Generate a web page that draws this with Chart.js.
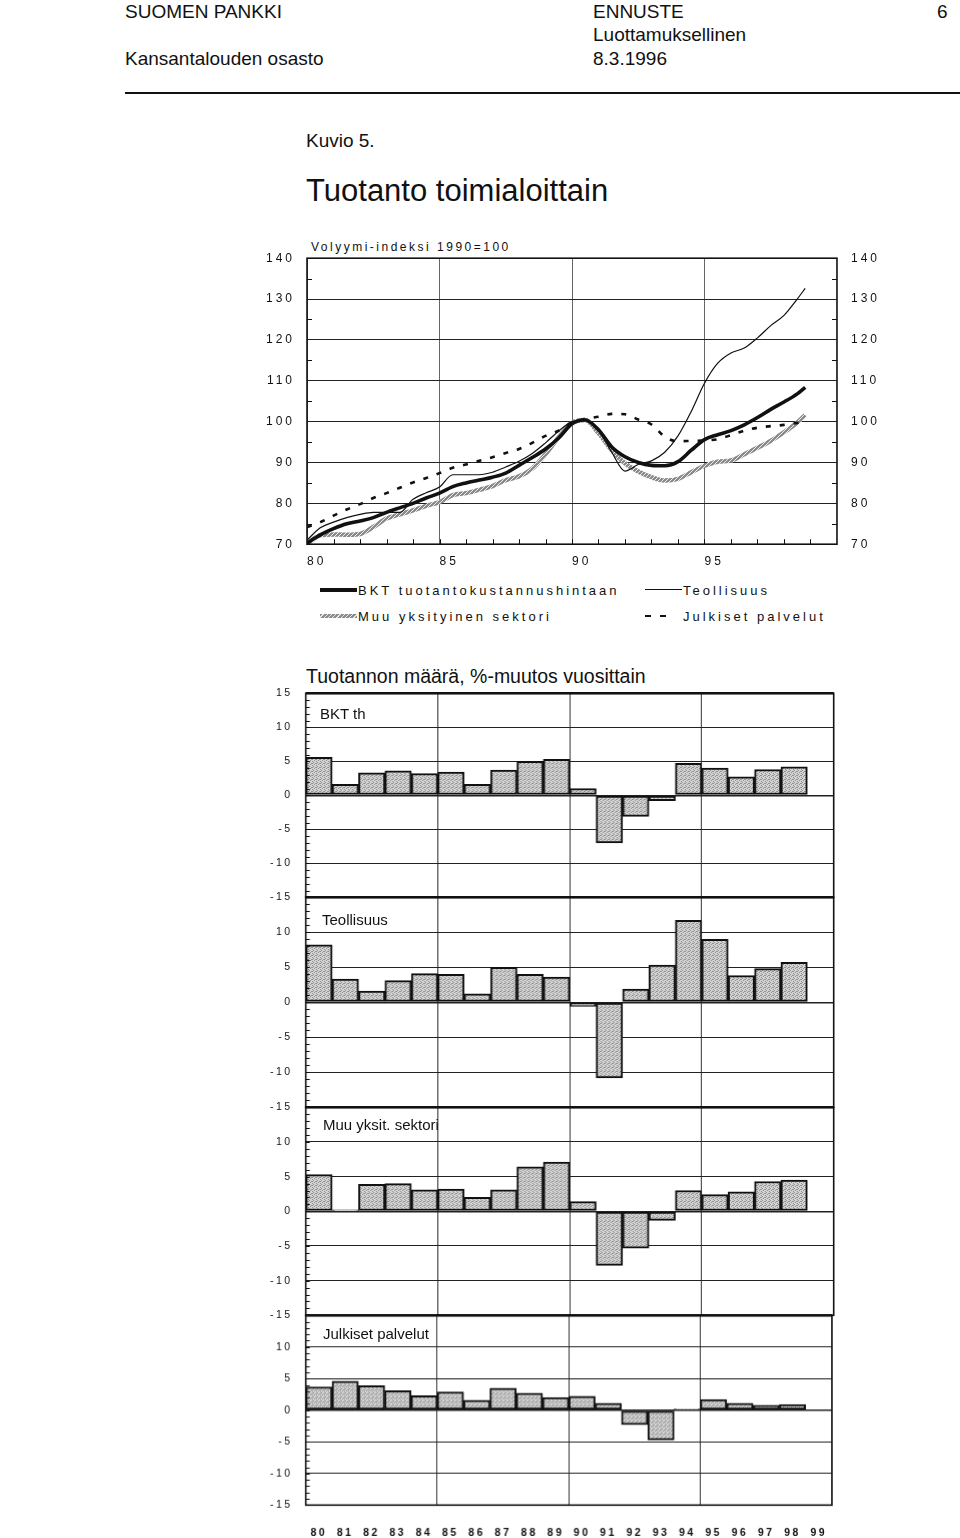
<!DOCTYPE html>
<html>
<head>
<meta charset="utf-8">
<script src="https://cdn.jsdelivr.net/npm/chart.js@4.4.0/dist/chart.umd.min.js"></script>
<style>
  body { margin: 0; width: 960px; height: 1538px; position: relative; overflow: hidden; background: #fff;
         font-family: "Liberation Sans", Arial, sans-serif; color: #111; }
  .t { position: absolute; white-space: nowrap; line-height: 1; }
  .sp { letter-spacing: 3px; }
  canvas { position: absolute; }
  .key { position: absolute; }
</style>
</head>
<body>
<div class="t" style="left:125px;top:2px;font-size:19px">SUOMEN PANKKI</div>
<div class="t" style="left:593px;top:2px;font-size:19px">ENNUSTE</div>
<div class="t" style="left:937px;top:2px;font-size:19px">6</div>
<div class="t" style="left:593px;top:25px;font-size:19px">Luottamuksellinen</div>
<div class="t" style="left:125px;top:49px;font-size:19px">Kansantalouden osasto</div>
<div class="t" style="left:593px;top:49px;font-size:19px">8.3.1996</div>
<div style="position:absolute;left:125px;top:92px;width:835px;height:2px;background:#111"></div>

<div class="t" style="left:306px;top:131px;font-size:19px">Kuvio 5.</div>
<div class="t" style="left:306px;top:175px;font-size:31px">Tuotanto toimialoittain</div>
<div class="t" style="left:311px;top:241px;font-size:12px;letter-spacing:2.5px">Volyymi-indeksi 1990=100</div>

<canvas id="lineChart" width="660" height="330"></canvas>

<!-- legend -->
<div class="key" style="left:320px;top:588px;width:37px;height:3.5px;background:#111"></div>
<div class="t sp" style="left:358px;top:584px;font-size:13px">BKT tuotantokustannushintaan</div>
<div class="key" style="left:645px;top:589px;width:37px;height:1.3px;background:#111"></div>
<div class="t sp" style="left:683px;top:584px;font-size:13px">Teollisuus</div>
<div class="key" style="left:320px;top:614px;width:37px;height:4px;background:repeating-linear-gradient(135deg,#8c8c8c 0 2px,#e6e6e6 2px 3px)"></div>
<div class="t sp" style="left:358px;top:610px;font-size:13px">Muu yksityinen sektori</div>
<div class="key" style="left:645px;top:614.5px;width:6px;height:2.5px;background:#111"></div>
<div class="key" style="left:660px;top:614.5px;width:6px;height:2.5px;background:#111"></div>
<div class="t sp" style="left:683px;top:610px;font-size:13px">Julkiset palvelut</div>

<div class="t" style="left:306px;top:667px;font-size:19.5px">Tuotannon määrä, %-muutos vuosittain</div>

<canvas id="p1" width="660" height="240"></canvas>
<canvas id="p2" width="660" height="240"></canvas>
<canvas id="p3" width="660" height="240"></canvas>
<canvas id="p4" width="660" height="260"></canvas>

<div class="t" style="left:320px;top:706px;font-size:15px">BKT th</div>
<div class="t" style="left:322px;top:912px;font-size:15px">Teollisuus</div>
<div class="t" style="left:323px;top:1117px;font-size:15px">Muu yksit. sektori</div>
<div class="t" style="left:323px;top:1326px;font-size:15px">Julkiset palvelut</div>

<script>
// volume index 1990=100 at half-year steps
const lineYears = [1980, 1980.5, 1981, 1981.5, 1982, 1982.5, 1983, 1983.5, 1984, 1984.5,
  1985, 1985.5, 1986, 1986.5, 1987, 1987.5, 1988, 1988.5, 1989, 1989.5,
  1990, 1990.5, 1991, 1991.5, 1992, 1992.5, 1993, 1993.5, 1994, 1994.5,
  1995, 1995.5, 1996, 1996.5, 1997, 1997.5, 1998, 1998.5, 1998.8];
const bktIndex = [70.3, 72.3, 73.8, 75.0, 75.7, 76.5, 77.8, 78.9, 80.0, 81.3,
  82.5, 84.1, 85.0, 85.7, 86.4, 87.4, 89.3, 91.2, 93.3, 96.0,
  99.5, 100.4, 98.0, 93.8, 91.4, 90.0, 89.3, 89.2, 90.2, 93.0,
  95.6, 96.8, 97.8, 99.2, 101.0, 103.0, 104.8, 106.8, 108.4];
const teolIndex = [71.0, 74.0, 75.4, 76.5, 77.3, 77.8, 77.8, 77.8, 81.0, 82.6,
  84.0, 87.0, 87.0, 87.0, 87.6, 88.9, 90.3, 92.2, 94.8, 97.7,
  100.0, 100.4, 98.0, 92.5, 87.9, 89.5, 90.4, 92.5, 96.5, 102.5,
  109.4, 114.3, 116.8, 118.0, 120.5, 123.5, 126.0, 130.0, 132.6];
const muuIndex = [70.0, 72.2, 72.4, 72.3, 72.5, 74.2, 76.3, 77.3, 78.3, 79.4,
  80.3, 82.0, 82.5, 83.3, 84.2, 85.7, 86.6, 88.5, 92.0, 96.2,
  99.7, 100.4, 97.2, 93.0, 89.8, 87.8, 86.4, 85.6, 86.0, 87.6,
  89.2, 90.2, 90.5, 92.0, 93.6, 95.3, 97.4, 99.8, 101.6];
const julkIndex = [74.2, 75.4, 77.0, 78.5, 79.8, 81.3, 82.5, 83.8, 85.1, 86.2,
  87.4, 88.7, 89.5, 90.4, 91.3, 92.3, 93.3, 94.8, 96.5, 97.8,
  99.8, 100.7, 101.2, 101.9, 101.8, 100.5, 99.3, 96.3, 95.2, 95.3,
  95.4, 95.7, 96.7, 97.8, 98.5, 98.9, 99.2, 99.7, 100.0];
const indexTicks = [70, 80, 90, 100, 110, 120, 130, 140];
const yearTicks = [1980, 1985, 1990, 1995];

// annual % change
const barYears = ['80', '81', '82', '83', '84', '85', '86', '87', '88', '89',
  '90', '91', '92', '93', '94', '95', '96', '97', '98', '99'];
const bktChange  = [5.6, 1.6, 3.3, 3.6, 3.2, 3.4, 1.6, 3.7, 5.0, 5.3, 1.0, -7.0, -3.1, -0.8, 4.7, 4.0, 2.7, 3.8, 4.2];
const teolChange = [8.2, 3.3, 1.6, 3.1, 4.1, 4.0, 1.2, 5.0, 4.0, 3.6, -0.6, -10.8, 1.9, 5.3, 11.7, 9.0, 3.8, 4.8, 5.7];
const muuChange  = [5.3, 0.2, 3.9, 4.0, 3.1, 3.2, 2.0, 3.1, 6.4, 7.1, 1.4, -7.8, -5.3, -1.3, 3.0, 2.4, 2.8, 4.3, 4.5];
const julkChange = [3.7, 4.6, 3.9, 3.1, 2.3, 2.9, 1.6, 3.5, 2.7, 2.0, 2.2, 1.1, -2.3, -4.7, 0.2, 1.7, 1.1, 0.8, 0.9];
const changeTicks = [-15, -10, -5, 0, 5, 10, 15];

const INK = "#111";

function makePattern(bg, fg, dots) {
  const c = document.createElement("canvas");
  c.width = 4; c.height = 4;
  const g = c.getContext("2d");
  g.fillStyle = bg; g.fillRect(0, 0, 4, 4);
  g.fillStyle = fg;
  dots.forEach(([x, y]) => g.fillRect(x, y, 1, 1));
  return g.createPattern(c, "repeat");
}
const stipple = makePattern("#d4d4d4", "#8f8f8f", [[0, 0], [2, 1], [1, 2], [3, 3], [3, 1]]);
const hatch = makePattern("#8a8a8a", "#ececec", [[0, 3], [1, 2], [2, 1], [3, 0]]);

const spacing = (px) => ({
  id: "spacing",
  beforeUpdate(c) { c.ctx.letterSpacing = px; },
  beforeDraw(c) { c.ctx.letterSpacing = px; },
});

// resize the canvas so the plot area lands exactly on the page box
function fitArea(chart, left, top, right, bottom) {
  const a = chart.chartArea;
  const w = chart.width + (right - left) - (a.right - a.left);
  const h = chart.height + (bottom - top) - (a.bottom - a.top);
  chart.resize(w, h);
  const b = chart.chartArea;
  chart.canvas.style.left = (left - b.left) + "px";
  chart.canvas.style.top = (top - b.top) + "px";
}

function pts(xs, ys) {
  return xs.map((x, i) => ({ x, y: ys[i] }));
}

const lineFrame = {
  id: "lineFrame",
  afterDraw(c) {
    const { ctx, chartArea: a, scales: { x, y } } = c;
    ctx.save();
    ctx.strokeStyle = INK;
    ctx.lineWidth = 1;
    ctx.beginPath();
    for (let yr = 1981; yr < 2000; yr++) {
      const px = Math.round(x.getPixelForValue(yr)) + 0.5;
      ctx.moveTo(px, a.bottom); ctx.lineTo(px, a.bottom - 5);
    }
    for (let v = 75; v < 140; v += 10) {
      const py = Math.round(y.getPixelForValue(v)) + 0.5;
      ctx.moveTo(a.left, py); ctx.lineTo(a.left + 5, py);
      ctx.moveTo(a.right, py); ctx.lineTo(a.right - 5, py);
    }
    ctx.stroke();
    ctx.lineWidth = 1.6;
    ctx.strokeRect(a.left, a.top, a.right - a.left, a.bottom - a.top);
    ctx.restore();
  },
};

const tickFont = { family: "'Liberation Sans', Arial, sans-serif", size: 12 };

const lineSet = (label, data, extra) => Object.assign({
  label, data, borderColor: INK, pointRadius: 0, tension: 0.4,
  cubicInterpolationMode: "monotone", fill: false,
}, extra);

const lineChart = new Chart(document.getElementById("lineChart"), {
  type: "line",
  data: {
    datasets: [
      lineSet("BKT tuotantokustannushintaan", pts(lineYears, bktIndex), { borderWidth: 3.6 }),
      lineSet("Teollisuus", pts(lineYears, teolIndex), { borderWidth: 1.2 }),
      lineSet("Julkiset palvelut", pts(lineYears, julkIndex), { borderWidth: 2.6, borderDash: [5, 9] }),
      lineSet("Muu yksityinen sektori", pts(lineYears, muuIndex), { borderWidth: 4.5, borderColor: hatch }),
    ],
  },
  options: {
    responsive: false,
    maintainAspectRatio: false,
    animation: false,
    events: [],
    layout: { padding: 0 },
    plugins: { legend: { display: false }, tooltip: { enabled: false } },
    scales: {
      x: {
        type: "linear", min: 1980, max: 2000,
        afterBuildTicks(s) { s.ticks = yearTicks.map((v) => ({ value: v })); },
        grid: { color: "#666", lineWidth: 1, drawTicks: false },
        border: { display: false },
        ticks: { align: "start", padding: 10, color: INK, font: tickFont,
                 callback: (v) => String(v).slice(2) },
      },
      y: {
        min: 70, max: 140,
        afterBuildTicks(s) { s.ticks = indexTicks.map((v) => ({ value: v })); },
        grid: { color: "#222", lineWidth: 1, drawTicks: false },
        border: { display: false },
        ticks: { padding: 12, color: INK, font: tickFont },
      },
      y2: {
        position: "right", min: 70, max: 140,
        afterBuildTicks(s) { s.ticks = indexTicks.map((v) => ({ value: v })); },
        grid: { display: false, drawTicks: false },
        border: { display: false },
        ticks: { padding: 14, color: INK, font: tickFont },
      },
    },
  },
  plugins: [spacing("3px"), lineFrame],
});
fitArea(lineChart, 307, 258, 837, 544);

const barFrame = {
  id: "barFrame",
  afterDraw(c) {
    const { ctx, chartArea: a, scales: { y } } = c;
    ctx.save();
    ctx.strokeStyle = INK;
    ctx.lineWidth = 1;
    ctx.beginPath();
    for (let v = y.min + 1; v < y.max; v++) {
      const py = Math.round(y.getPixelForValue(v)) + 0.5;
      ctx.moveTo(a.left, py); ctx.lineTo(a.left + 4, py);
    }
    ctx.stroke();
    ctx.lineWidth = 1.6;
    ctx.strokeRect(a.left, a.top, a.right - a.left, a.bottom - a.top);
    ctx.lineWidth = 2.4;
    ctx.beginPath();
    ctx.moveTo(a.left, a.top); ctx.lineTo(a.right, a.top);
    ctx.stroke();
    ctx.restore();
  },
};

function makePanel(id, label, values, top, bottom, last) {
  const chart = new Chart(document.getElementById(id), {
    type: "bar",
    data: {
      labels: barYears,
      datasets: [{
        label, data: values,
        backgroundColor: stipple, borderColor: INK, borderWidth: 2,
        borderSkipped: false, barPercentage: 1, categoryPercentage: 1,
      }],
    },
    options: {
      responsive: false,
      maintainAspectRatio: false,
      animation: false,
      events: [],
      layout: { padding: { top: 2, bottom: 2, left: 0, right: 2 } },
      plugins: { legend: { display: false }, tooltip: { enabled: false } },
      scales: {
        x: {
          grid: {
            offset: true, drawTicks: false, lineWidth: 1,
            color: (ctx) => (ctx.index > 0 && ctx.index < barYears.length && ctx.index % 5 === 0) ? "#333" : "rgba(0,0,0,0)",
          },
          border: { display: false },
          ticks: {
            display: last, padding: 22, color: INK,
            font: { family: "'Liberation Sans', Arial, sans-serif", size: 10.5, weight: "bold" },
          },
        },
        y: {
          min: -15, max: 15,
          afterBuildTicks(s) { s.ticks = changeTicks.map((v) => ({ value: v })); },
          grid: { color: "#222", drawTicks: false, lineWidth: (ctx) => (ctx.tick && ctx.tick.value === 0 ? 1.6 : 1) },
          border: { display: false },
          ticks: {
            padding: 13, color: INK,
            font: { family: "'Liberation Sans', Arial, sans-serif", size: 10.5 },
            callback: (v) => (v === 15 && id !== "p1") ? "" : String(v),
          },
        },
      },
    },
    plugins: [spacing("2.5px"), barFrame],
  });
  fitArea(chart, 306, top, 833, bottom);
}

makePanel("p1", "BKT th", bktChange, 693, 897, false);
makePanel("p2", "Teollisuus", teolChange, 897, 1107, false);
makePanel("p3", "Muu yksit. sektori", muuChange, 1107, 1315, false);
makePanel("p4", "Julkiset palvelut", julkChange, 1315, 1504, true);
</script>
</body>
</html>
